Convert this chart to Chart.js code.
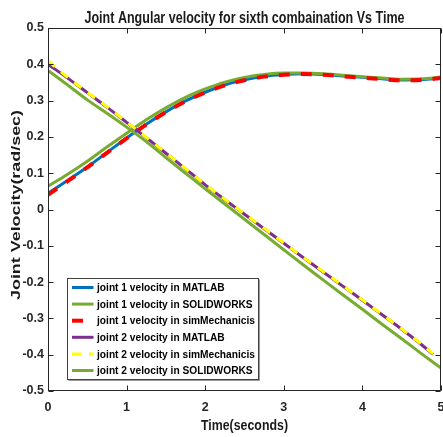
<!DOCTYPE html>
<html><head><meta charset="utf-8">
<script src="https://cdn.jsdelivr.net/npm/chart.js@4.4.0/dist/chart.umd.min.js"></script>
<style>html,body{margin:0;padding:0;background:#fff;}#wrap{width:443px;height:437px;}</style>
</head><body><div id="wrap"><canvas id="c" width="443" height="437"></canvas></div>
<script>
const titleText = 'Joint Angular velocity for sixth combaination Vs Time';
const xAxisTitle = 'Time(seconds)';
const yAxisTitle = 'Joint Velocity(rad/sec)';
const xTickValues = [0, 1, 2, 3, 4, 5];
const yTickValues = [-0.5, -0.4, -0.3, -0.2, -0.1, 0, 0.1, 0.2, 0.3, 0.4, 0.5];
const seriesLabels = [
  'joint 1 velocity in MATLAB',
  'joint 1 velocity in SOLIDWORKS',
  'joint 1 velocity in simMechanicis',
  'joint 2 velocity in MATLAB',
  'joint 2 velocity in simMechanicis',
  'joint 2 velocity in SOLIDWORKS'
];
const time = [0,0.25,0.5,0.75,1,1.25,1.5,1.75,2,2.25,2.5,2.75,3,3.25,3.5,3.75,4,4.25,4.5,4.75,5];
const timeJ2Sim = [0,0.25,0.5,0.75,1,1.25,1.5,1.75,2,2.25,2.5,2.75,3,3.25,3.5,3.75,4,4.25,4.5,4.75,4.9];
const j1Matlab = [0.045,0.080,0.117,0.157,0.197,0.235,0.269,0.299,0.323,0.343,0.357,0.367,0.372,0.374,0.372,0.368,0.364,0.360,0.357,0.358,0.363];
const j1Solid  = [0.064,0.097,0.133,0.172,0.210,0.247,0.280,0.309,0.332,0.351,0.364,0.372,0.376,0.376,0.374,0.370,0.366,0.362,0.359,0.360,0.365];
const j1Sim    = [0.040,0.078,0.116,0.156,0.196,0.234,0.268,0.298,0.322,0.342,0.356,0.366,0.371,0.373,0.371,0.367,0.363,0.359,0.356,0.357,0.362];
const j2Matlab = [0.400,0.362,0.322,0.282,0.240,0.198,0.155,0.112,0.068,0.027,-0.013,-0.053,-0.093,-0.133,-0.172,-0.211,-0.250,-0.290,-0.330,-0.372,-0.399];
const j2Sim    = [0.410,0.364,0.323,0.283,0.241,0.199,0.156,0.113,0.069,0.028,-0.012,-0.052,-0.092,-0.132,-0.171,-0.210,-0.249,-0.289,-0.329,-0.371,-0.398];
const j2Solid  = [0.383,0.343,0.302,0.265,0.227,0.187,0.143,0.100,0.057,0.015,-0.027,-0.069,-0.111,-0.153,-0.194,-0.235,-0.275,-0.316,-0.356,-0.397,-0.437];

const FONT = "'Liberation Sans', Arial, sans-serif";
const toPts = (xs, ys) => xs.map((x, i) => ({x, y: ys[i]}));

const datasets = [
  {label: seriesLabels[0], data: toPts(time, j1Matlab), borderColor: '#0072BD', borderWidth: 3, order: 5},
  {label: seriesLabels[1], data: toPts(time, j1Solid), borderColor: '#77AC30', borderWidth: 3, order: 4},
  {label: seriesLabels[2], data: toPts(time, j1Sim), borderColor: '#FF0000', borderWidth: 4, borderDash: [11, 11], order: 3},
  {label: seriesLabels[3], data: toPts(timeJ2Sim, j2Matlab), borderColor: '#7E2F8E', borderWidth: 3, order: 2},
  {label: seriesLabels[4], data: toPts(timeJ2Sim, j2Sim), borderColor: '#FFFF00', borderWidth: 3, borderDash: [9, 8], order: 1},
  {label: seriesLabels[5], data: toPts(time, j2Solid), borderColor: '#77AC30', borderWidth: 3, order: 0}
].map(d => Object.assign({fill: false, pointRadius: 0, cubicInterpolationMode: 'monotone', borderCapStyle: 'butt'}, d));

const framePlugin = {
  id: 'frame',
  afterDatasetsDraw(chart) {
    const ctx = chart.ctx;
    const {left, right, top, bottom} = chart.chartArea;
    const xs = chart.scales.x, ys = chart.scales.y;
    ctx.save();
    ctx.strokeStyle = '#262626';
    ctx.lineWidth = 1;
    const L = Math.round(left) + 0.5, R = Math.round(right) - 0.5, T = Math.round(top) + 0.5, B = Math.round(bottom) - 0.5;
    ctx.strokeRect(L, T, R - L, B - T);
    ctx.beginPath();
    xTickValues.forEach(v => {
      const p = Math.round(xs.getPixelForValue(v)) + 0.5;
      ctx.moveTo(p, B); ctx.lineTo(p, B - 5);
      ctx.moveTo(p, T); ctx.lineTo(p, T + 5);
    });
    yTickValues.forEach(v => {
      const p = Math.round(ys.getPixelForValue(v)) + 0.5;
      ctx.moveTo(L, p); ctx.lineTo(L + 5, p);
      ctx.moveTo(R, p); ctx.lineTo(R - 5, p);
    });
    ctx.stroke();

    ctx.fillStyle = '#1a1a1a';
    ctx.font = 'bold 13px ' + FONT;
    ctx.textAlign = 'center';
    ctx.textBaseline = 'alphabetic';
    let w = ctx.measureText(titleText).width;
    ctx.save();
    ctx.translate((left + right) / 2, 23);
    ctx.scale(320 / w, 1.2);
    ctx.fillText(titleText, 0, 0);
    ctx.restore();

    ctx.font = 'bold 12.5px ' + FONT;
    w = ctx.measureText(xAxisTitle).width;
    ctx.save();
    ctx.translate((left + right) / 2, 430);
    ctx.scale(87 / w, 1.13);
    ctx.fillText(xAxisTitle, 0, 0);
    ctx.restore();

    ctx.font = 'bold 13px ' + FONT;
    w = ctx.measureText(yAxisTitle).width;
    ctx.save();
    ctx.translate(19.5, 205);
    ctx.rotate(-Math.PI / 2);
    ctx.scale(190 / w, 1);
    ctx.fillText(yAxisTitle, 0, 0);
    ctx.restore();

    const bx = 67.5, by = 278.5, bw = 191, bh = 101;
    ctx.fillStyle = '#ffffff';
    ctx.fillRect(bx, by, bw, bh);
    ctx.strokeStyle = '#9a9a9a';
    ctx.beginPath();
    ctx.moveTo(bx + bw + 1, by + 1); ctx.lineTo(bx + bw + 1, by + bh + 1); ctx.lineTo(bx + 1, by + bh + 1);
    ctx.stroke();
    ctx.strokeStyle = '#404040';
    ctx.strokeRect(bx, by, bw, bh);
    ctx.font = 'bold 10.2px ' + FONT;
    ctx.textAlign = 'left';
    ctx.textBaseline = 'middle';
    chart.data.datasets.forEach((ds, i) => {
      const y = 287.5 + i * 16.6;
      ctx.save();
      ctx.strokeStyle = ds.borderColor;
      ctx.lineWidth = ds.borderWidth;
      ctx.setLineDash(ds.borderDash || []);
      ctx.lineCap = 'butt';
      ctx.beginPath();
      ctx.moveTo(72, y); ctx.lineTo(93.5, y);
      ctx.stroke();
      ctx.restore();
      ctx.save();
      ctx.fillStyle = '#000';
      ctx.translate(97, y + 0.5);
      ctx.scale(1, 1.12);
      ctx.fillText(ds.label, 0, 0);
      ctx.restore();
    });
    ctx.restore();
  }
};

new Chart(document.getElementById('c'), {
  type: 'line',
  data: {datasets},
  options: {
    responsive: false,
    animation: false,
    devicePixelRatio: 1,
    layout: {padding: {top: 28, right: 2, left: 0, bottom: 0}},
    plugins: {legend: {display: false}, title: {display: false}, tooltip: {enabled: false}},
    scales: {
      x: {
        type: 'linear', min: 0, max: 5,
        afterFit: s => { s.height = 46; s.paddingLeft = 0; s.paddingRight = 0; },
        afterBuildTicks: s => { s.ticks = xTickValues.map(v => ({value: v})); },
        grid: {display: false, drawTicks: false, tickLength: 0}, border: {display: false},
        ticks: {color: '#262626', font: {family: FONT, size: 12.5, weight: 'bold'}, padding: 9, maxRotation: 0,
          callback: v => String(v)}
      },
      y: {
        type: 'linear', min: -0.5, max: 0.5,
        afterFit: s => { s.width = 48; s.paddingTop = 0; s.paddingBottom = 0; },
        afterBuildTicks: s => { s.ticks = yTickValues.map(v => ({value: v})); },
        grid: {display: false, drawTicks: false, tickLength: 0}, border: {display: false},
        ticks: {color: '#262626', font: {family: FONT, size: 12.5, weight: 'bold'}, padding: 4,
          callback: v => String(Math.round(v * 10) / 10)}
      }
    }
  },
  plugins: [framePlugin]
});
</script>
</body></html>
